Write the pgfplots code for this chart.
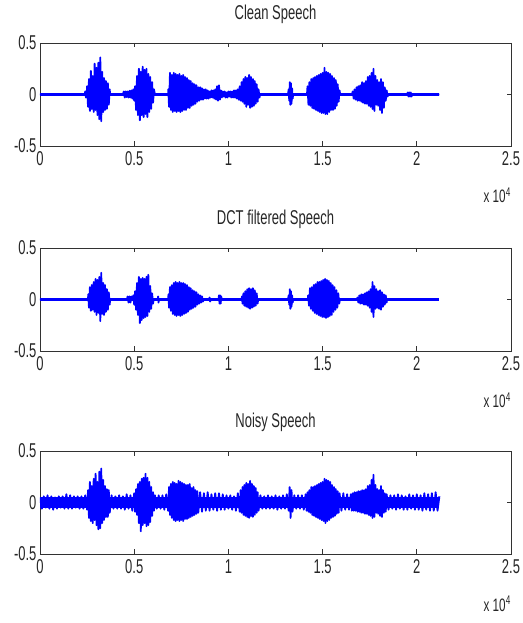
\documentclass[border=0pt]{standalone}
\usepackage{pgfplots}
\pgfplotsset{compat=1.18}
\usepackage{fontspec}
\setmainfont{Liberation Sans}[FakeStretch=0.65]
\definecolor{mblue}{RGB}{0,0,255}
\definecolor{mframe}{RGB}{50,50,50}
\pgfplotsset{
  mstyle/.style={
    scale only axis, width=471pt, height=103pt,
    xmin=0, xmax=25000, ymin=-0.5, ymax=0.5,
    xtick={0,5000,10000,15000,20000,25000},
    xticklabels={0,0.5,1,1.5,2,2.5},
    ytick={-0.5,0,0.5}, yticklabels={-0.5,0,0.5},
    scaled x ticks=false,
    tick align=inside, major tick length=4.5pt,
    axis line style={line width=0.8pt, draw=mframe},
    tick style={line width=0.7pt, draw=mframe},
    ticklabel style={font=\fontsize{20}{20}\selectfont, text=black!85},
    xticklabel style={yshift=-2pt},
    title style={font=\fontsize{20}{20}\selectfont, text=black!85, at={(0.5,1)}, anchor=south, yshift=13pt, inner sep=0pt},
  },
  wave/.style={mblue, line width=1.8pt, line join=round, no marks},
  base/.style={mblue, line width=2.6pt, no marks},
}
\begin{document}
\begin{tikzpicture}
\useasboundingbox (0,0) rectangle (522pt,623pt);
% ---------------- Clean speech ----------------
\begin{axis}[mstyle, name=top, at={(40pt,477pt)}, anchor=south west, title={Clean Speech}]
\addplot[base] coordinates {(0,0) (21200,0)};
\addplot[wave] table {
x y
0 0
2380 0
2400 0.03
2440 -0.03
2480 0.01
2500 0.08
2550 -0.12
2600 0.15
2650 -0.16
2700 0.23
2750 -0.14
2800 0.18
2850 -0.17
2900 0.30
2950 -0.15
3000 0.26
3050 -0.20
3100 0.31
3150 -0.24
3200 0.36
3250 -0.26
3300 0.22
3350 -0.17
3400 0.16
3450 -0.15
3500 0.13
3550 -0.14
3600 0.11
3650 -0.10
3700 0.05
3720 0
4400 0
4450 0.03
4500 -0.03
4550 0.03
4600 -0.025
4650 0.03
4700 -0.03
4750 0.035
4800 -0.03
4850 0.04
4900 -0.04
4950 0.05
5000 -0.06
5050 0.08
5100 -0.15
5150 0.18
5200 -0.20
5250 0.25
5300 -0.25
5350 0.22
5400 -0.20
5450 0.27
5500 -0.22
5550 0.24
5600 -0.19
5650 0.25
5700 -0.22
5750 0.20
5800 -0.17
5850 0.17
5900 -0.14
5950 0.12
6000 -0.08
6050 0.05
6100 0
6800 0
6810 0.05
6850 -0.12
6900 0.21
6950 -0.15
7000 0.19
7050 -0.17
7100 0.21
7150 -0.16
7200 0.20
7250 -0.17
7300 0.19
7350 -0.16
7400 0.20
7450 -0.17
7500 0.18
7550 -0.16
7600 0.19
7650 -0.15
7700 0.17
7750 -0.15
7800 0.16
7850 -0.13
7900 0.14
7950 -0.13
8000 0.13
8050 -0.11
8100 0.11
8150 -0.10
8200 0.10
8250 -0.09
8300 0.09
8350 -0.07
8400 0.07
8450 -0.06
8500 0.07
8550 -0.05
8600 0.06
8650 -0.05
8700 0.05
8750 -0.04
8800 0.05
8850 -0.04
8900 0.04
8950 -0.04
9000 0.03
9050 -0.03
9100 0.04
9150 -0.03
9200 0.04
9250 -0.04
9300 0.05
9350 -0.05
9400 0.08
9450 -0.06
9500 0.09
9550 -0.05
9600 0.04
9650 -0.03
9700 0.03
9750 -0.02
9800 0.03
9850 -0.03
9900 0.02
9950 -0.03
10000 0.03
10050 -0.02
10100 0.03
10150 -0.03
10200 0.03
10250 -0.03
10300 0.04
10350 -0.03
10400 0.04
10450 -0.04
10500 0.05
10550 -0.05
10600 0.08
10650 -0.06
10700 0.12
10750 -0.07
10800 0.15
10850 -0.09
10900 0.17
10950 -0.12
11000 0.16
11050 -0.10
11100 0.19
11150 -0.13
11200 0.17
11250 -0.12
11300 0.15
11350 -0.11
11400 0.13
11450 -0.09
11500 0.10
11550 -0.07
11600 0.05
11650 -0.03
11680 0
13160 0
13200 0.05
13230 -0.06
13260 0.12
13290 -0.10
13320 0.11
13350 -0.09
13380 0.06
13410 -0.04
13440 0
14170 0
14200 0.08
14250 -0.10
14300 0.12
14350 -0.11
14400 0.15
14450 -0.13
14500 0.16
14550 -0.14
14600 0.17
14650 -0.15
14700 0.18
14750 -0.16
14800 0.19
14850 -0.17
14900 0.20
14950 -0.18
15000 0.21
15050 -0.18
15100 0.26
15150 -0.19
15200 0.22
15250 -0.19
15300 0.21
15350 -0.17
15400 0.20
15450 -0.15
15500 0.18
15550 -0.15
15600 0.16
15650 -0.14
15700 0.14
15750 -0.11
15800 0.10
15850 -0.07
15900 0.04
15930 0
16560 0
16600 0.03
16650 -0.04
16700 0.05
16750 -0.05
16800 0.07
16850 -0.06
16900 0.08
16950 -0.06
17000 0.09
17050 -0.07
17100 0.12
17150 -0.08
17200 0.11
17250 -0.09
17300 0.13
17350 -0.09
17400 0.17
17450 -0.11
17500 0.18
17550 -0.12
17600 0.21
17650 -0.14
17700 0.25
17750 -0.16
17800 0.18
17850 -0.10
17900 0.14
17950 -0.11
18000 0.12
18050 -0.15
18100 0.15
18150 -0.18
18200 0.12
18250 -0.13
18300 0.07
18350 -0.06
18400 0.04
18450 -0.02
18480 0
19480 0
19520 0.02
19560 -0.02
19600 0.02
19640 -0.02
19680 0.02
19720 -0.02
19750 0
21200 0
};
\end{axis}
% ---------------- DCT filtered speech ----------------
\begin{axis}[mstyle, name=mid, at={(40pt,272pt)}, anchor=south west, title={DCT filtered Speech}]
\addplot[base] coordinates {(0,0) (21170,0)};
\addplot[wave] table {
x y
0 0
2550 0
2560 0.05
2600 -0.08
2650 0.12
2700 -0.11
2750 0.14
2800 -0.10
2850 0.17
2900 -0.12
2950 0.20
3000 -0.15
3050 0.19
3100 -0.13
3150 0.22
3200 -0.21
3250 0.26
3300 -0.14
3350 0.16
3400 -0.15
3450 0.14
3500 -0.12
3550 0.10
3600 -0.10
3650 0.07
3700 -0.05
3720 0
4620 0
4650 0.03
4700 -0.03
4750 0.03
4800 -0.03
4850 0.03
4880 0
4940 0
4950 0.04
5000 -0.05
5050 0.08
5100 -0.10
5150 0.16
5200 -0.15
5250 0.22
5300 -0.23
5350 0.20
5400 -0.20
5450 0.21
5500 -0.18
5550 0.20
5600 -0.17
5650 0.22
5700 -0.16
5750 0.24
5800 -0.12
5850 0.13
5900 -0.09
5950 0.06
6000 -0.04
6030 0
6250 0
6270 0.03
6290 -0.03
6310 0
6800 0
6820 0.05
6850 -0.08
6900 0.12
6950 -0.11
7000 0.14
7050 -0.14
7100 0.16
7150 -0.15
7200 0.17
7250 -0.16
7300 0.16
7350 -0.15
7400 0.17
7450 -0.16
7500 0.16
7550 -0.15
7600 0.16
7650 -0.14
7700 0.15
7750 -0.13
7800 0.14
7850 -0.12
7900 0.12
7950 -0.10
8000 0.11
8050 -0.09
8100 0.09
8150 -0.08
8200 0.08
8250 -0.07
8300 0.07
8350 -0.05
8400 0.05
8450 -0.04
8500 0.04
8550 -0.03
8600 0.03
8650 -0.02
8700 0
8980 0
9000 0.02
9030 -0.02
9060 0
9480 0
9500 0.04
9530 -0.04
9560 0.04
9590 -0.04
9620 0.03
9640 0
10700 0
10720 0.03
10750 -0.04
10800 0.06
10850 -0.06
10900 0.08
10950 -0.07
11000 0.10
11050 -0.08
11100 0.11
11150 -0.09
11200 0.10
11250 -0.08
11300 0.11
11350 -0.07
11400 0.09
11450 -0.06
11500 0.06
11550 -0.04
11580 0
13160 0
13200 0.04
13230 -0.05
13260 0.10
13290 -0.09
13320 0.08
13350 -0.07
13380 0.04
13410 -0.03
13440 0
14220 0
14230 0.04
14280 -0.06
14330 0.11
14380 -0.09
14430 0.12
14480 -0.11
14530 0.14
14580 -0.13
14630 0.15
14680 -0.14
14730 0.17
14780 -0.15
14830 0.17
14880 -0.16
14930 0.18
14980 -0.17
15030 0.19
15080 -0.17
15130 0.20
15180 -0.18
15230 0.19
15280 -0.17
15330 0.18
15380 -0.16
15430 0.16
15480 -0.15
15530 0.14
15580 -0.12
15630 0.12
15680 -0.10
15730 0.09
15780 -0.08
15830 0.06
15880 -0.04
15920 0
16830 0
16850 0.02
16900 -0.03
16950 0.04
17000 -0.04
17050 0.05
17100 -0.04
17150 0.05
17200 -0.05
17250 0.06
17300 -0.05
17350 0.07
17400 -0.06
17450 0.08
17500 -0.08
17550 0.10
17600 -0.12
17650 0.17
17700 -0.17
17750 0.13
17800 -0.09
17850 0.10
17900 -0.08
17950 0.08
18000 -0.09
18050 0.09
18100 -0.10
18150 0.07
18200 -0.07
18250 0.05
18300 -0.05
18350 0.04
18400 -0.03
18420 0
21170 0
};
\end{axis}
% ---------------- Noisy speech ----------------
\begin{axis}[mstyle, name=bot, at={(40pt,69pt)}, anchor=south west, title={Noisy Speech}]
\addplot[fill=mblue, draw=none] coordinates {(0,0.055) (21200,0.055) (21200,-0.055) (0,-0.055)} -- cycle;
\addplot[wave] table {
x y
0 0.05
100 -0.06
200 0.06
300 -0.05
400 0.07
500 -0.06
600 0.06
700 -0.07
800 0.05
900 -0.06
1000 0.06
1100 -0.05
1200 0.06
1300 -0.06
1400 0.08
1500 -0.06
1600 0.07
1700 -0.06
1800 0.06
1900 -0.05
2000 0.06
2100 -0.06
2200 0.06
2300 -0.06
2400 0.07
2500 -0.07
2550 0.12
2600 -0.15
2650 0.20
2700 -0.18
2750 0.16
2800 -0.20
2850 0.23
2900 -0.17
2950 0.28
3000 -0.22
3050 0.20
3100 -0.26
3150 0.30
3200 -0.25
3250 0.33
3300 -0.20
3350 0.22
3400 -0.17
3450 0.16
3500 -0.14
3550 0.13
3600 -0.14
3650 0.12
3700 -0.10
3800 0.07
3900 -0.06
4000 0.06
4100 -0.06
4200 0.07
4300 -0.06
4400 0.06
4500 -0.07
4600 0.08
4700 -0.06
4800 0.07
4900 -0.08
5000 0.09
5050 -0.09
5100 0.13
5150 -0.12
5200 0.18
5250 -0.20
5300 0.20
5350 -0.28
5400 0.23
5450 -0.22
5500 0.24
5550 -0.20
5600 0.28
5650 -0.23
5700 0.24
5750 -0.22
5800 0.20
5850 -0.19
5900 0.15
5950 -0.13
6000 0.10
6050 -0.08
6100 0.07
6200 -0.06
6300 0.07
6400 -0.06
6500 0.07
6600 -0.07
6700 0.08
6800 -0.08
6850 0.15
6900 -0.12
6950 0.18
7000 -0.15
7050 0.20
7100 -0.17
7150 0.19
7200 -0.18
7250 0.18
7300 -0.17
7350 0.21
7400 -0.18
7450 0.20
7500 -0.17
7550 0.19
7600 -0.18
7650 0.18
7700 -0.16
7750 0.17
7800 -0.16
7850 0.17
7900 -0.15
7950 0.18
8000 -0.14
8050 0.14
8100 -0.13
8150 0.15
8200 -0.12
8250 0.12
8300 -0.11
8350 0.11
8400 -0.10
8500 0.10
8600 -0.09
8700 0.09
8800 -0.08
8900 0.10
9000 -0.08
9100 0.08
9200 -0.07
9300 0.09
9400 -0.08
9500 0.09
9600 -0.07
9700 0.08
9800 -0.07
9900 0.07
10000 -0.06
10100 0.07
10200 -0.07
10300 0.06
10400 -0.08
10500 0.09
10600 -0.09
10650 0.12
10700 -0.10
10750 0.15
10800 -0.12
10850 0.17
10900 -0.13
10950 0.19
11000 -0.14
11050 0.18
11100 -0.15
11150 0.21
11200 -0.13
11250 0.18
11300 -0.14
11350 0.16
11400 -0.12
11450 0.14
11500 -0.10
11550 0.10
11600 -0.08
11700 0.07
11800 -0.06
11900 0.06
12000 -0.06
12100 0.07
12200 -0.06
12300 0.06
12400 -0.06
12500 0.07
12600 -0.07
12700 0.06
12800 -0.06
12900 0.07
13000 -0.06
13100 0.08
13200 -0.08
13250 0.15
13300 -0.15
13350 0.12
13400 -0.09
13500 0.07
13600 -0.06
13700 0.07
13800 -0.06
13900 0.07
14000 -0.07
14100 0.08
14150 -0.08
14200 0.10
14250 -0.09
14300 0.12
14350 -0.10
14400 0.15
14450 -0.12
14500 0.15
14550 -0.13
14600 0.16
14650 -0.14
14700 0.17
14750 -0.15
14800 0.18
14850 -0.16
14900 0.19
14950 -0.17
15000 0.20
15050 -0.18
15100 0.23
15150 -0.20
15200 0.22
15250 -0.18
15300 0.21
15350 -0.17
15400 0.20
15450 -0.15
15500 0.17
15550 -0.14
15600 0.15
15650 -0.13
15700 0.13
15750 -0.11
15800 0.11
15850 -0.10
15900 0.09
16000 -0.08
16100 0.09
16200 -0.07
16300 0.08
16400 -0.07
16500 0.08
16550 -0.08
16600 0.09
16650 -0.08
16700 0.10
16750 -0.08
16800 0.10
16850 -0.09
16900 0.11
16950 -0.09
17000 0.11
17050 -0.10
17100 0.12
17150 -0.10
17200 0.12
17250 -0.11
17300 0.13
17350 -0.11
17400 0.16
17450 -0.12
17500 0.17
17550 -0.13
17600 0.22
17650 -0.15
17700 0.27
17750 -0.14
17800 0.17
17850 -0.10
17900 0.13
17950 -0.11
18000 0.12
18050 -0.13
18100 0.16
18150 -0.14
18200 0.12
18250 -0.10
18300 0.09
18350 -0.09
18400 0.08
18500 -0.07
18600 0.07
18700 -0.06
18800 0.07
18900 -0.07
19000 0.08
19100 -0.06
19200 0.07
19300 -0.07
19400 0.06
19500 -0.07
19600 0.08
19700 -0.06
19800 0.07
19900 -0.07
20000 0.08
20100 -0.07
20200 0.07
20300 -0.08
20400 0.09
20500 -0.07
20600 0.08
20700 -0.08
20800 0.09
20900 -0.08
21000 0.10
21100 -0.08
21200 0.06
};
\end{axis}
\foreach \ax in {top,mid,bot}{
  \node[anchor=base east, inner sep=0pt, font=\fontsize{18}{18}\selectfont, text=black!85]
    at ([yshift=-57pt]\ax.south east) {x 10\textsuperscript{4}};
}
\end{tikzpicture}
\end{document}
